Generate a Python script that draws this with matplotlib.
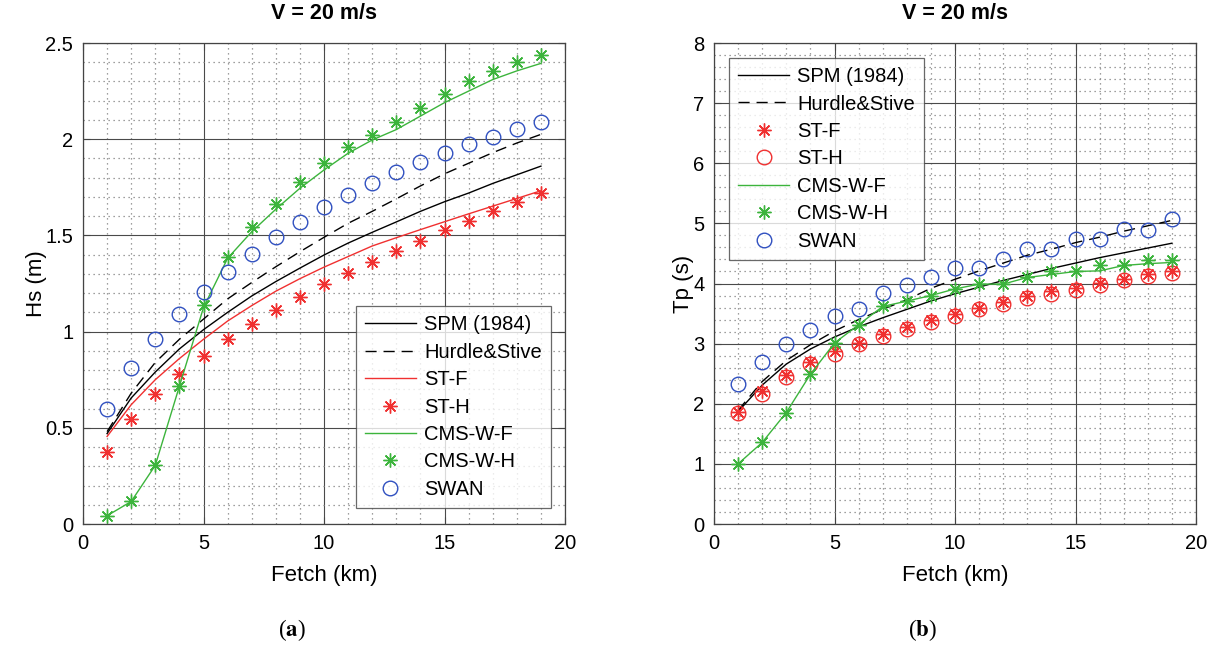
import numpy as np
import matplotlib
matplotlib.use("Agg")
import matplotlib.pyplot as plt
from matplotlib.ticker import MultipleLocator, FuncFormatter

plt.rcParams['font.family'] = ['Liberation Sans', 'DejaVu Sans']
plt.rcParams['mathtext.fontset'] = 'stix'

fetch = np.arange(1, 20)

# ---- (a) Hs (m) ----
hs_spm = [0.47, 0.655, 0.79, 0.91, 1.01, 1.10, 1.185, 1.26, 1.33, 1.398,
          1.46, 1.516, 1.57, 1.625, 1.675, 1.72, 1.77, 1.815, 1.86]
hs_hs = [0.48, 0.68, 0.84, 0.96, 1.065, 1.17, 1.255, 1.337, 1.415, 1.49,
         1.563, 1.625, 1.69, 1.757, 1.82, 1.875, 1.93, 1.98, 2.025]
hs_stf = [0.455, 0.62, 0.75, 0.86, 0.96, 1.055, 1.135, 1.21, 1.275, 1.335,
          1.39, 1.445, 1.488, 1.53, 1.571, 1.612, 1.652, 1.692, 1.732]
hs_sth = [0.375, 0.545, 0.675, 0.78, 0.873, 0.961, 1.04, 1.11, 1.18, 1.245,
          1.306, 1.362, 1.419, 1.473, 1.527, 1.577, 1.626, 1.673, 1.72]
hs_cmsf = [0.043, 0.117, 0.305, 0.716, 1.125, 1.381, 1.519, 1.636, 1.745, 1.84,
           1.927, 1.996, 2.05, 2.12, 2.19, 2.25, 2.31, 2.355, 2.394]
hs_cmsh = [0.043, 0.117, 0.305, 0.716, 1.138, 1.389, 1.545, 1.663, 1.778, 1.877,
           1.957, 2.021, 2.088, 2.16, 2.233, 2.30, 2.356, 2.403, 2.437]
hs_swan = [0.60, 0.812, 0.961, 1.091, 1.205, 1.309, 1.404, 1.493, 1.572, 1.646,
           1.711, 1.772, 1.828, 1.88, 1.928, 1.973, 2.013, 2.052, 2.087]

# ---- (b) Tp (s) ----
tp_spm = [1.87, 2.31, 2.66, 2.91, 3.11, 3.28, 3.43, 3.57, 3.71, 3.83,
          3.94, 4.05, 4.15, 4.25, 4.34, 4.43, 4.51, 4.59, 4.67]
tp_hs = [1.89, 2.37, 2.72, 2.98, 3.21, 3.40, 3.57, 3.73, 3.92, 4.07,
         4.21, 4.34, 4.47, 4.57, 4.68, 4.77, 4.87, 4.96, 5.05]
tp_stf = [1.86, 2.21, 2.47, 2.70, 2.88, 3.01, 3.16, 3.28, 3.39, 3.50,
          3.60, 3.70, 3.79, 3.87, 3.93, 4.01, 4.08, 4.15, 4.21]
tp_sth = [1.84, 2.17, 2.44, 2.66, 2.83, 2.99, 3.13, 3.25, 3.36, 3.46,
          3.57, 3.66, 3.76, 3.83, 3.90, 3.98, 4.05, 4.12, 4.18]
tp_cmsf = [1.0, 1.356, 1.854, 2.49, 3.01, 3.314, 3.618, 3.707, 3.80, 3.91,
           3.99, 3.99, 4.10, 4.15, 4.20, 4.21, 4.30, 4.33, 4.35]
tp_cmsh = [1.0, 1.356, 1.854, 2.49, 3.01, 3.314, 3.618, 3.707, 3.80, 3.91,
           3.994, 3.994, 4.105, 4.216, 4.205, 4.30, 4.31, 4.39, 4.398]
tp_swan = [2.335, 2.694, 2.999, 3.22, 3.452, 3.573, 3.839, 3.975, 4.116, 4.265,
           4.26, 4.415, 4.57, 4.57, 4.736, 4.736, 4.905, 4.895, 5.08]

RED = '#f03030'
GREEN = '#3cb43c'
BLUE = '#3050c0'
AST = (8, 2, 0)

W, H = 1217, 645
fig = plt.figure(figsize=(W/100, H/100), dpi=100)
axL = fig.add_axes([83/W, 1-524/H, 482/W, 481/H])
axR = fig.add_axes([714/W, 1-524/H, 482/W, 481/H])


def style(ax, ymax, ymaj, ymin, ylabel):
    ax.set_xlim(0, 20)
    ax.set_ylim(0, ymax)
    ax.xaxis.set_major_locator(MultipleLocator(5))
    ax.xaxis.set_minor_locator(MultipleLocator(1))
    ax.yaxis.set_major_locator(MultipleLocator(ymaj))
    ax.yaxis.set_minor_locator(MultipleLocator(ymin))
    ax.yaxis.set_major_formatter(FuncFormatter(lambda v, p: '%g' % v))
    ax.grid(which='major', color='#4a4a4a', linestyle='-', linewidth=0.8)
    ax.grid(which='minor', color='#808080', linestyle=(0, (1, 3)), linewidth=0.9)
    ax.set_axisbelow(True)
    ax.tick_params(which='major', direction='in', top=True, right=True,
                   length=5, labelsize=14.5, color='#444444', pad=7)
    ax.tick_params(which='minor', length=0)
    for s in ax.spines.values():
        s.set_color('#444444')
        s.set_linewidth(0.9)
    ax.set_title('V = 20 m/s', fontsize=15.5, fontweight='bold', pad=17)
    ax.set_xlabel('Fetch (km)', fontsize=16, labelpad=9)
    ax.set_ylabel(ylabel, fontsize=16, labelpad=-1)


style(axL, 2.5, 0.5, 0.1, 'Hs (m)')
style(axR, 8, 1, 0.2, 'Tp (s)')

leg_kw = dict(fontsize=14.5, handlelength=2.55, handletextpad=0.4,
              labelspacing=0.42, frameon=True, fancybox=False,
              edgecolor='#444444', borderpad=0.45, borderaxespad=0.0)

# Left panel
axL.plot(fetch, hs_spm, '-', color='black', lw=1.0, label='SPM (1984)')
axL.plot(fetch, hs_hs, '--', color='black', lw=1.0, dashes=(8, 5), label='Hurdle&Stive')
axL.plot(fetch, hs_stf, '-', color=RED, lw=1.0, label='ST-F')
axL.plot(fetch, hs_sth, ls='none', marker=AST, ms=10, mew=1.0, color=RED, label='ST-H')
axL.plot(fetch, hs_cmsf, '-', color=GREEN, lw=1.0, label='CMS-W-F')
axL.plot(fetch, hs_cmsh, ls='none', marker=AST, ms=10, mew=1.0, color=GREEN, label='CMS-W-H')
axL.plot(fetch, hs_swan, ls='none', marker='o', ms=10.5, mew=1.0, mfc='none', color=BLUE, label='SWAN')
legL = axL.legend(loc='lower right', bbox_to_anchor=(1-14/482, 16/481), **leg_kw)
legL.get_frame().set_linewidth(0.9)

# Right panel
axR.plot(fetch, tp_spm, '-', color='black', lw=1.0, label='SPM (1984)')
axR.plot(fetch, tp_hs, '--', color='black', lw=1.0, dashes=(8, 5), label='Hurdle&Stive')
axR.plot(fetch, tp_stf, ls='none', marker=AST, ms=10, mew=1.0, color=RED, label='ST-F')
axR.plot(fetch, tp_sth, ls='none', marker='o', ms=10.5, mew=1.0, mfc='none', color=RED, label='ST-H')
axR.plot(fetch, tp_cmsf, '-', color=GREEN, lw=1.0, label='CMS-W-F')
axR.plot(fetch, tp_cmsh, ls='none', marker=AST, ms=10, mew=1.0, color=GREEN, label='CMS-W-H')
axR.plot(fetch, tp_swan, ls='none', marker='o', ms=10.5, mew=1.0, mfc='none', color=BLUE, label='SWAN')
legR = axR.legend(loc='upper left', bbox_to_anchor=(15/482, 1-15/481), **leg_kw)
legR.get_frame().set_linewidth(0.9)

fig.text(292/W, 1-630/H, r'($\mathbf{a}$)', ha='center', va='center',
         fontsize=16.5, family='Liberation Serif')
fig.text(922/W, 1-630/H, r'($\mathbf{b}$)', ha='center', va='center',
         fontsize=16.5, family='Liberation Serif')

fig.savefig('out.png', dpi=100)
